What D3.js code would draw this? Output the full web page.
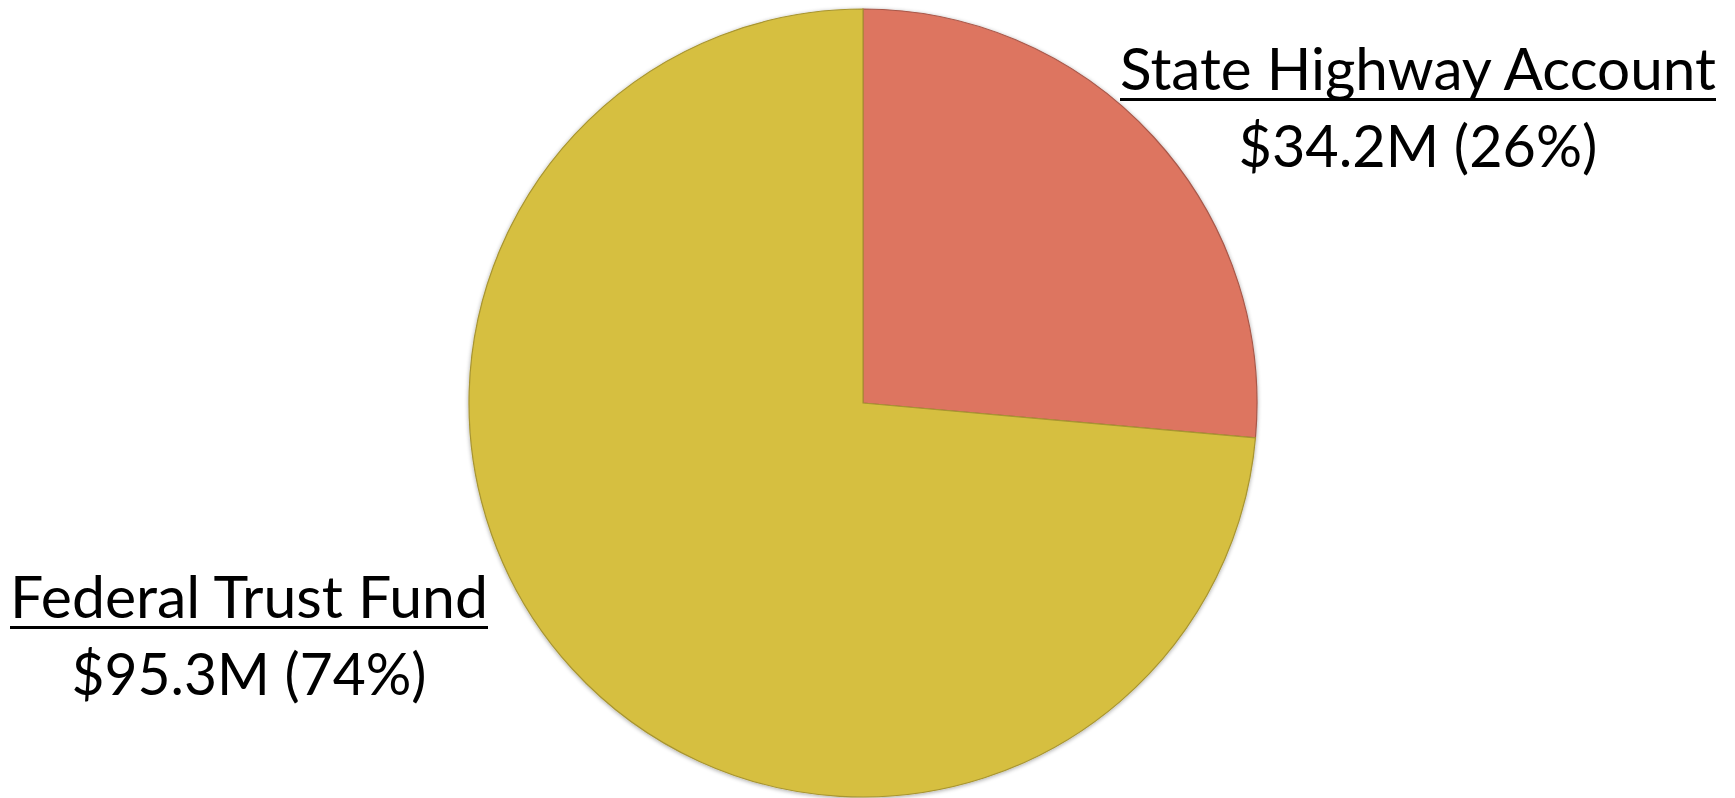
<!DOCTYPE html>
<html><head><meta charset="utf-8">
<script src="https://cdn.jsdelivr.net/npm/d3@7"></script>
<style>html,body{margin:0;padding:0;background:#fff;}svg{display:block;}</style>
</head><body>
<svg id="chart" width="1735" height="798"></svg>
<script>
const categories = ["State Highway Account", "Federal Trust Fund"];
const values = [34.2, 95.3];
const valueLabels = ["$34.2M (26%)", "$95.3M (74%)"];
const colors = ["#DD7461", "#D6BF41"];

const svg = d3.select("#chart");
const cx = 863, cy = 403, r = 394;

const defs = svg.append("defs");
const f = defs.append("filter").attr("id","sh").attr("x","-10%").attr("y","-10%").attr("width","120%").attr("height","120%");
f.append("feGaussianBlur").attr("in","SourceAlpha").attr("stdDeviation",2);
f.append("feOffset").attr("dx",0).attr("dy",1).attr("result","b");
f.append("feComponentTransfer").append("feFuncA").attr("type","linear").attr("slope",0.35);
const m = f.append("feMerge"); m.append("feMergeNode"); m.append("feMergeNode").attr("in","SourceGraphic");

const pie = d3.pie().sort(null).value(d => d);
const arc = d3.arc().innerRadius(0).outerRadius(r);
const g = svg.append("g").attr("transform", `translate(${cx},${cy})`).attr("filter","url(#sh)");
g.selectAll("path").data(pie(values)).join("path")
  .attr("d", arc)
  .attr("fill", (d,i) => colors[i])
  .attr("stroke", (d,i) => i === 0 ? "#A8594A" : "#A89530")
  .attr("stroke-width", 1.2);

// labels
const labelPos = [{x:1418, y1:90, y2:167, w1:596, w2:359}, {x:249, y1:618, y2:695, w1:478, w2:355}];
const font = "Lato, 'Open Sans', sans-serif";
const fs = 58;
categories.forEach((c, i) => {
  const p = labelPos[i];
  const t1 = svg.append("text").attr("x", p.x).attr("y", p.y1).attr("text-anchor","middle")
    .attr("font-family", font).attr("font-size", fs).attr("fill","#000")
    .attr("textLength", p.w1).attr("lengthAdjust","spacingAndGlyphs").text(c);
  svg.append("line").attr("x1", p.x - p.w1/2).attr("x2", p.x + p.w1/2)
    .attr("y1", p.y1 + 9.5).attr("y2", p.y1 + 9.5).attr("stroke","#000").attr("stroke-width",3);
  svg.append("text").attr("x", p.x).attr("y", p.y2).attr("text-anchor","middle")
    .attr("font-family", font).attr("font-size", fs).attr("fill","#000")
    .attr("textLength", p.w2).attr("lengthAdjust","spacingAndGlyphs").text(valueLabels[i]);
});
</script>
</body></html>
